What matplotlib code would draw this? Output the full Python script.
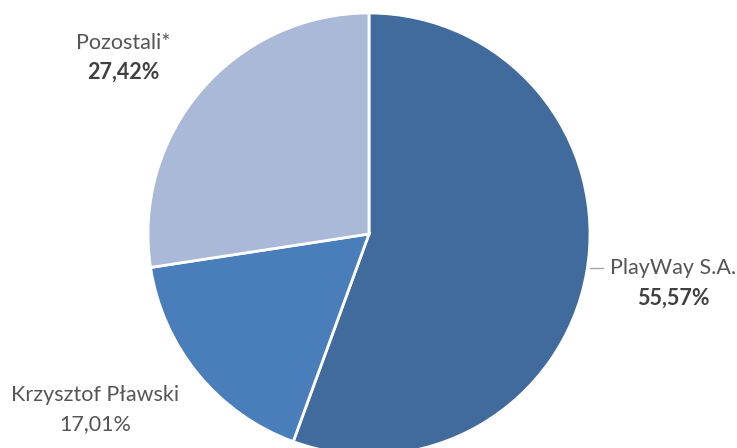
import matplotlib
matplotlib.use("Agg")
import matplotlib.pyplot as plt

labels = ["PlayWay S.A.", "Krzysztof Pławski", "Pozostali*"]
values = [55.57, 17.01, 27.42]
value_labels = ["55,57%", "17,01%", "27,42%"]
bold_value = [True, False, True]
colors = ["#416B9C", "#4A7EBB", "#AAB9D7"]

W, H = 737, 448
fig = plt.figure(figsize=(W / 100, H / 100), dpi=100)
ax = fig.add_axes([0, 0, 1, 1])

cx, cy, r = 369, H - 234, 221
ax.pie(values, colors=colors, startangle=90, counterclock=False,
       center=(cx, cy), radius=r, frame=True,
       wedgeprops=dict(edgecolor="white", linewidth=2.0))
ax.set_xlim(0, W)
ax.set_ylim(0, H)
ax.set_aspect("equal")
ax.axis("off")

font = "Lato"
pos = [(673, 268, 298), (95, 395, 424), (123, 43, 72)]
for lab, vl, b, (x, y1, y2) in zip(labels, value_labels, bold_value, pos):
    ax.text(x, H - y1, lab, ha="center", va="center", fontsize=15.5,
            color="#555555", family=font)
    ax.text(x, H - y2, vl, ha="center", va="center", fontsize=15.5,
            color="#404040" if b else "#555555", family=font,
            fontweight="bold" if b else "normal")

ax.plot([590, 603], [H - 268, H - 268], color="#A6A6A6", lw=1)

fig.savefig("out.png", dpi=100)
